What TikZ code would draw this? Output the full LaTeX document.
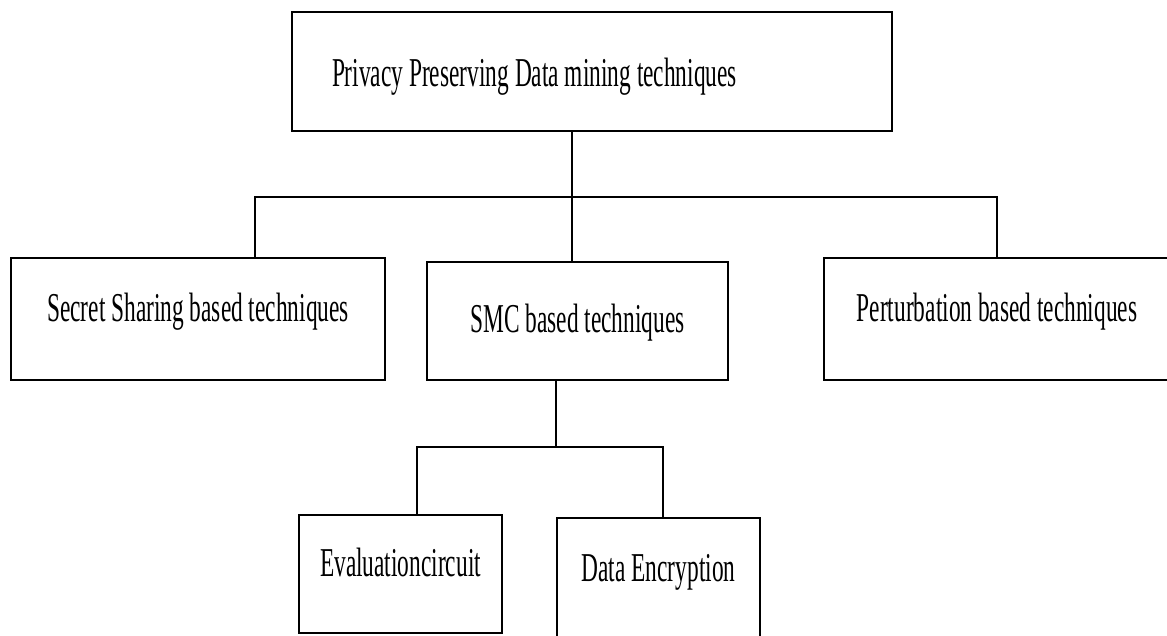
\documentclass[tikz,border=0pt]{standalone}
\usepackage{fontspec}
\setmainfont{Liberation Serif}[FakeStretch=0.57]
\usetikzlibrary{positioning}
\tikzstyle{box}=[rectangle,draw,line width=1.8pt,inner sep=0pt,font=\fontsize{41}{48}\selectfont,text height=7pt,text depth=2.5pt]
\tikzstyle{link} = [draw,line width=1.3pt]

\begin{document}
\begin{tikzpicture}[x=1pt,y=-1pt]

    \useasboundingbox (0,0) rectangle (1167,635);

    % root of the tree, text sits to the left and a bit low
    \node[box, minimum width=600pt, minimum height=119pt, text width=520pt, align=flush left, text height=32pt] (root) at (592,71.5) {Privacy Preserving Data mining techniques};

    % second level (last field: text height, to move the text down)
    \foreach \x/\y/\w/\h/\name/\txt/\th in {198/319/374/122/secret/{Secret Sharing based techniques}/7,
                                            577.5/321/301/118/smc/{SMC based techniques}/26,
                                            997/319/346/122/pert/{Perturbation based techniques}/7}
        \node[box, minimum width=\w pt, minimum height=\h pt, text height=\th pt] (\name) at (\x,\y) {\txt};

    % third level, under SMC
    \foreach \x/\y/\w/\h/\name/\txt in {400.5/574/203/118/evalc/{Evaluationcircuit},
                                        658.5/579/203/122/enc/{Data Encryption}}
        \node[box, minimum width=\w pt, minimum height=\h pt] (\name) at (\x,\y) {\txt};

    \coordinate (busL) at (255,197);
    \coordinate (busM) at (572,197);
    \coordinate (busR) at (997,197);
    \coordinate (subL) at (417,447);
    \coordinate (subM) at (556,447);
    \coordinate (subR) at (663,447);

    \path[link] (root.south -| busM) -- (smc.north -| busM);
    \path[link] (secret.north -| busL) -- (busL) -- (busR) -- (pert.north -| busR);

    \path[link] (smc.south -| subM) -- (subM);
    \path[link] (evalc.north -| subL) -- (subL) -- (subR) -- (enc.north -| subR);

\end{tikzpicture}
\end{document}
